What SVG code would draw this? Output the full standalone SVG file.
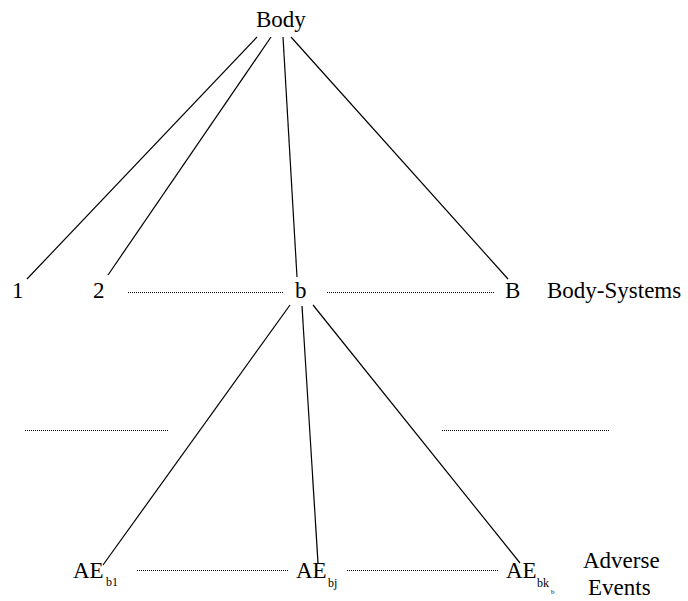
<svg xmlns="http://www.w3.org/2000/svg" width="688" height="601" viewBox="0 0 688 601">
<style>
.t{font-size:23px}
.s{font-size:12px}
.ss{font-size:7px}
.e{stroke:#000;stroke-width:1.2;fill:none}
.d{stroke:#000;stroke-width:1;stroke-dasharray:1 1;fill:none}
</style>
<rect width="688" height="601" fill="#fff"/>
<g id="connectors">
<line class="e" x1="257" y1="37" x2="27" y2="279"/>
<line class="e" x1="271" y1="37" x2="108" y2="275"/>
<line class="e" x1="283" y1="37" x2="297" y2="277"/>
<line class="e" x1="291" y1="37" x2="508" y2="279"/>
<line class="e" x1="290" y1="305" x2="103" y2="565"/>
<line class="e" x1="302" y1="306" x2="318" y2="563"/>
<line class="e" x1="313" y1="305" x2="520" y2="563"/>
<line class="d" x1="128" y1="292.5" x2="283" y2="292.5"/>
<line class="d" x1="327" y1="292.5" x2="494" y2="292.5"/>
<line class="d" x1="25" y1="430.5" x2="168" y2="430.5"/>
<line class="d" x1="442" y1="430.5" x2="609" y2="430.5"/>
<line class="d" x1="137" y1="570.5" x2="288" y2="570.5"/>
<line class="d" x1="347" y1="570.5" x2="499" y2="570.5"/>
</g>
<g font-family="'Liberation Serif', 'DejaVu Serif', serif" fill="#000">
<g id="body"><text class="t" x="256" y="27">Body</text></g>
<g id="n1"><text class="t" x="12" y="298">1</text></g>
<g id="n2"><text class="t" x="93" y="298">2</text></g>
<g id="nb"><text class="t" x="295" y="298">b</text></g>
<g id="nB"><text class="t" x="505" y="298">B</text></g>
<g id="label-bs"><text class="t" x="547" y="298">Body-Systems</text></g>
<g id="ae1"><text class="t" x="73" y="578">AE</text><text class="s" x="106" y="586">b1</text></g>
<g id="aej"><text class="t" x="296" y="578">AE</text><text class="s" x="328" y="587">bj</text></g>
<g id="aek"><text class="t" x="506" y="578">AE</text><text class="s" x="537" y="587">bk</text><text class="ss" x="551" y="594">b</text></g>
<g id="label-ae"><text class="t" x="583" y="568">Adverse</text><text class="t" x="588" y="595">Events</text></g>
</g>
</svg>
